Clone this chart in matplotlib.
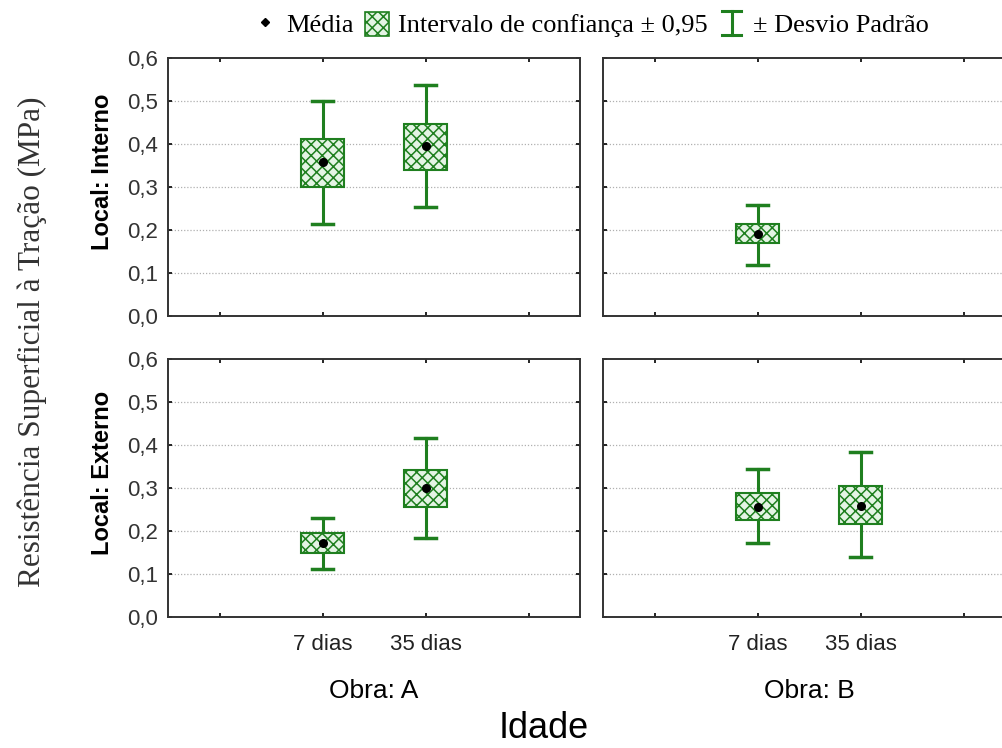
import matplotlib
matplotlib.use("Agg")
import matplotlib.pyplot as plt
from matplotlib.patches import Rectangle
from matplotlib.lines import Line2D
from matplotlib.legend_handler import HandlerBase

# ---------------- data ----------------
idades = ["7 dias", "35 dias"]
obras = ["Obra: A", "Obra: B"]
locais = ["Local: Interno", "Local: Externo"]

# (local, obra) -> one value per idade ; None = no data
media = {
    (0, 0): [0.357, 0.395],
    (0, 1): [0.190, None],
    (1, 0): [0.171, 0.299],
    (1, 1): [0.256, 0.259],
}
ic_inf = {
    (0, 0): [0.299, 0.340],
    (0, 1): [0.169, None],
    (1, 0): [0.148, 0.255],
    (1, 1): [0.226, 0.216],
}
ic_sup = {
    (0, 0): [0.412, 0.446],
    (0, 1): [0.213, None],
    (1, 0): [0.195, 0.343],
    (1, 1): [0.289, 0.305],
}
dp_inf = {
    (0, 0): [0.213, 0.253],
    (0, 1): [0.118, None],
    (1, 0): [0.111, 0.184],
    (1, 1): [0.173, 0.140],
}
dp_sup = {
    (0, 0): [0.501, 0.538],
    (0, 1): [0.258, None],
    (1, 0): [0.231, 0.417],
    (1, 1): [0.344, 0.384],
}

yticks = [0.0, 0.1, 0.2, 0.3, 0.4, 0.5, 0.6]
ytick_labels = ["0,0", "0,1", "0,2", "0,3", "0,4", "0,5", "0,6"]

green = "#1f7f1f"
fill = "#e4f4e4"
hatch_col = "#2a5a2a"
sans = "Liberation Sans"
serif = "Liberation Serif"

plt.rcParams["hatch.color"] = hatch_col
plt.rcParams["hatch.linewidth"] = 1.1

fig = plt.figure(figsize=(10.02, 7.48), dpi=100)

W = 1002.0
H = 748.0
lefts = [168 / W, 603 / W]
width = 412 / W
bottoms = [1 - 316 / H, 1 - 617 / H]
height = 258 / H

box_hw = 0.21
cap_hw = 0.10

for r in range(2):
    for c in range(2):
        ax = fig.add_axes([lefts[c], bottoms[r], width, height])
        ax.set_xlim(0.5, 4.5)
        ax.set_ylim(0, 0.6)
        for y in yticks[1:-1]:
            ax.axhline(y, color="#b0b0b0", lw=0.9, ls=(0, (1, 1.5)), zorder=0)
        key = (r, c)
        for i in range(len(idades)):
            m = media[key][i]
            if m is None:
                continue
            x = 2 + i
            lo, hi = dp_inf[key][i], dp_sup[key][i]
            cl, ch = ic_inf[key][i], ic_sup[key][i]
            ax.plot([x, x], [lo, cl], color=green, lw=2.2, zorder=2)
            ax.plot([x, x], [ch, hi], color=green, lw=2.2, zorder=2)
            ax.plot([x - cap_hw, x + cap_hw], [lo, lo], color=green, lw=2.5, zorder=2)
            ax.plot([x - cap_hw, x + cap_hw], [hi, hi], color=green, lw=2.5, zorder=2)
            ax.add_patch(Rectangle((x - box_hw, cl), 2 * box_hw, ch - cl,
                                   facecolor=fill, edgecolor=green, hatch="xxx",
                                   lw=1.5, zorder=3))
            ax.plot([x], [m], marker="o", color="black", ms=5.5, zorder=4)

        ax.set_xticks([1, 2, 3, 4])
        ax.set_yticks(yticks)
        ax.tick_params(direction="in", length=3, width=1.2, top=True, right=True,
                       labelsize=16)
        if r == 1:
            ax.set_xticklabels(["", idades[0], idades[1], ""], fontfamily=sans,
                               color="#222222")
            ax.tick_params(axis="x", pad=12)
            ax.text(0.5, -0.285, obras[c], transform=ax.transAxes, ha="center",
                    va="center", fontsize=19, fontfamily=sans)
        else:
            ax.set_xticklabels([])
        if c == 0:
            ax.set_yticklabels(ytick_labels, fontfamily=sans, color="#333333")
            ax.tick_params(axis="y", pad=7)
            ax.text(-0.16, 0.56, locais[r], transform=ax.transAxes, rotation=90,
                    ha="center", va="center", fontsize=17, fontweight="bold",
                    fontfamily=sans)
        else:
            ax.set_yticklabels([])
        for sp in ax.spines.values():
            sp.set_linewidth(1.4)
            sp.set_color("#333333")

fig.text(544 / W, 1 - 728 / H, "Idade", ha="center", va="center",
         fontsize=26, fontfamily=sans)
fig.text(0.032, 1 - 342 / H, "Resistência Superficial à Tração (MPa)", rotation=90,
         ha="center", va="center", fontsize=22.5, fontfamily=serif, color="#333333")


# ---------------- legend ----------------
class BoxHandler(HandlerBase):
    def create_artists(self, legend, orig, xd, yd, w, h, fs, trans):
        s = min(w, h) * 1.3
        p = Rectangle((xd + (w - s) / 2, yd + (h - s) / 2 - 1), s, s, facecolor=fill,
                      edgecolor=green, hatch="xxx", lw=1.2, transform=trans)
        return [p]


class WhiskerHandler(HandlerBase):
    def create_artists(self, legend, orig, xd, yd, w, h, fs, trans):
        cx = xd + w / 2
        t = yd + h * 1.1
        b = yd - h * 0.2
        hw = w * 0.35
        lines = [
            Line2D([cx, cx], [b, t], color=green, lw=2.2, transform=trans),
            Line2D([cx - hw, cx + hw], [t, t], color=green, lw=2.2, transform=trans),
            Line2D([cx - hw, cx + hw], [b, b], color=green, lw=2.2, transform=trans),
        ]
        return lines


h_mean = Line2D([], [], ls="none", marker="D", color="black", ms=4)
h_box = Rectangle((0, 0), 1, 1)
h_wh = Line2D([], [])
fig.legend([h_mean, h_box, h_wh],
           ["Média", "Intervalo de confiança ± 0,95", "± Desvio Padrão"],
           handler_map={Rectangle: BoxHandler(), h_wh: WhiskerHandler()},
           loc="center", bbox_to_anchor=(590 / W, 1 - 25 / H), ncol=3,
           frameon=False, prop={"family": serif, "size": 19},
           handlelength=1.0, handletextpad=0.3, columnspacing=0.4)

fig.savefig("out.png", dpi=100)
